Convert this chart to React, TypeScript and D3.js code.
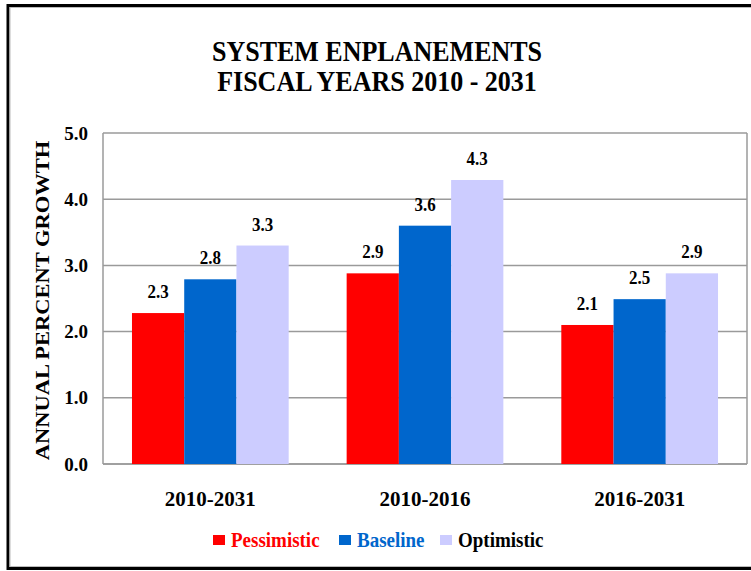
import React from "react";
import * as d3 from "d3";

const categories = ["2010-2031", "2010-2016", "2016-2031"];
const seriesNames = ["Pessimistic", "Baseline", "Optimistic"];
const pessimistic = [2.28, 2.88, 2.1];
const baseline = [2.79, 3.6, 2.49];
const optimistic = [3.3, 4.29, 2.88];
const yTicks = [0, 1, 2, 3, 4, 5];
const titleLines = ["SYSTEM ENPLANEMENTS", "FISCAL YEARS 2010 - 2031"];
const yTitle = "ANNUAL PERCENT GROWTH";

const colors = ["#FF0000", "#0066CC", "#CCCCFF"];
const legendTextColors = ["#FF0000", "#0066CC", "#000000"];

const W = 751;
const H = 571;
const FONT = "'Liberation Serif', 'Times New Roman', serif";

export default function App() {
  const left = 103;
  const right = 747;
  const top = 133;
  const bottom = 464;
  const series = [pessimistic, baseline, optimistic];

  const x0 = d3
    .scaleBand<string>()
    .domain(categories)
    .range([left, right])
    .paddingInner(0.27)
    .paddingOuter(0.135);
  const x1 = d3
    .scaleBand<string>()
    .domain(seriesNames)
    .range([0, x0.bandwidth()])
    .padding(0);
  const y = d3.scaleLinear().domain([0, 5]).range([bottom, top]);

  const legendItems = [
    { sq: 213, tx: 231 },
    { sq: 339, tx: 357 },
    { sq: 440, tx: 458 },
  ];

  return (
    <svg
      width={W}
      height={H}
      style={{ position: "absolute", left: 0, top: 0, background: "#fff" }}
      fontFamily={FONT}
    >
      <rect x={0} y={0} width={W} height={H} fill="#fff" />
      {/* outer frame */}
      <rect x={8} y={5.5} width={800} height={563} fill="none" stroke="#000" strokeWidth={3} />
      <rect x={10} y={7.5} width={800} height={559} fill="none" stroke="#bbb" strokeWidth={1} />

      {/* title */}
      {titleLines.map((t, i) => (
        <text
          key={t}
          transform={`translate(377,${61 + i * 30}) scale(1,1.1)`}
          textAnchor="middle"
          fontWeight="bold"
          fontSize={26}
          fill="#000"
        >
          {t}
        </text>
      ))}

      {/* gridlines */}
      {yTicks.map((t) => (
        <line
          key={t}
          x1={left}
          x2={right}
          y1={y(t)}
          y2={y(t)}
          stroke={t === 0 ? "#808080" : "#9a9a9a"}
          strokeWidth={1.5}
        />
      ))}
      <line x1={left} x2={left} y1={top} y2={bottom} stroke="#9a9a9a" strokeWidth={1.5} />
      <line x1={right} x2={right} y1={top} y2={bottom} stroke="#9a9a9a" strokeWidth={1.5} />

      {/* y tick labels */}
      {yTicks.map((t) => (
        <text
          key={t}
          x={88}
          y={y(t)}
          dy="0.35em"
          textAnchor="end"
          fontWeight="bold"
          fontSize={19}
          fill="#000"
        >
          {d3.format(".1f")(t)}
        </text>
      ))}

      {/* y title */}
      <text
        transform={`translate(49,${(top + bottom) / 2 + 2}) rotate(-90) scale(1,0.8)`}
        textAnchor="middle"
        fontWeight="bold"
        fontSize={22.5}
        fill="#000"
      >
        {yTitle}
      </text>

      {/* bars */}
      {categories.map((c, ci) => (
        <g key={c} transform={`translate(${x0(c)},0)`}>
          {seriesNames.map((s, si) => {
            const v = series[si][ci];
            const bx = x1(s)!;
            const bw = x1.bandwidth();
            return (
              <g key={s}>
                <rect x={bx} y={y(v)} width={bw} height={bottom - y(v)} fill={colors[si]} />
                <text
                  transform={`translate(${bx + bw / 2},${y(v) - 15}) scale(1,1.12)`}
                  textAnchor="middle"
                  fontWeight="bold"
                  fontSize={17}
                  fill="#000"
                >
                  {d3.format(".1f")(v)}
                </text>
              </g>
            );
          })}
        </g>
      ))}

      {/* x labels */}
      {categories.map((c) => (
        <text
          key={c}
          x={x0(c)! + x0.bandwidth() / 2}
          y={506}
          textAnchor="middle"
          fontWeight="bold"
          fontSize={21}
          fill="#000"
        >
          {c}
        </text>
      ))}

      {/* legend */}
      {seriesNames.map((s, i) => (
        <g key={s}>
          <rect x={legendItems[i].sq} y={535} width={12} height={10} fill={colors[i]} />
          <text
            transform={`translate(${legendItems[i].tx},547) scale(1,1.06)`}
            fontWeight="bold"
            fontSize={19}
            fill={legendTextColors[i]}
          >
            {s}
          </text>
        </g>
      ))}
    </svg>
  );
}
